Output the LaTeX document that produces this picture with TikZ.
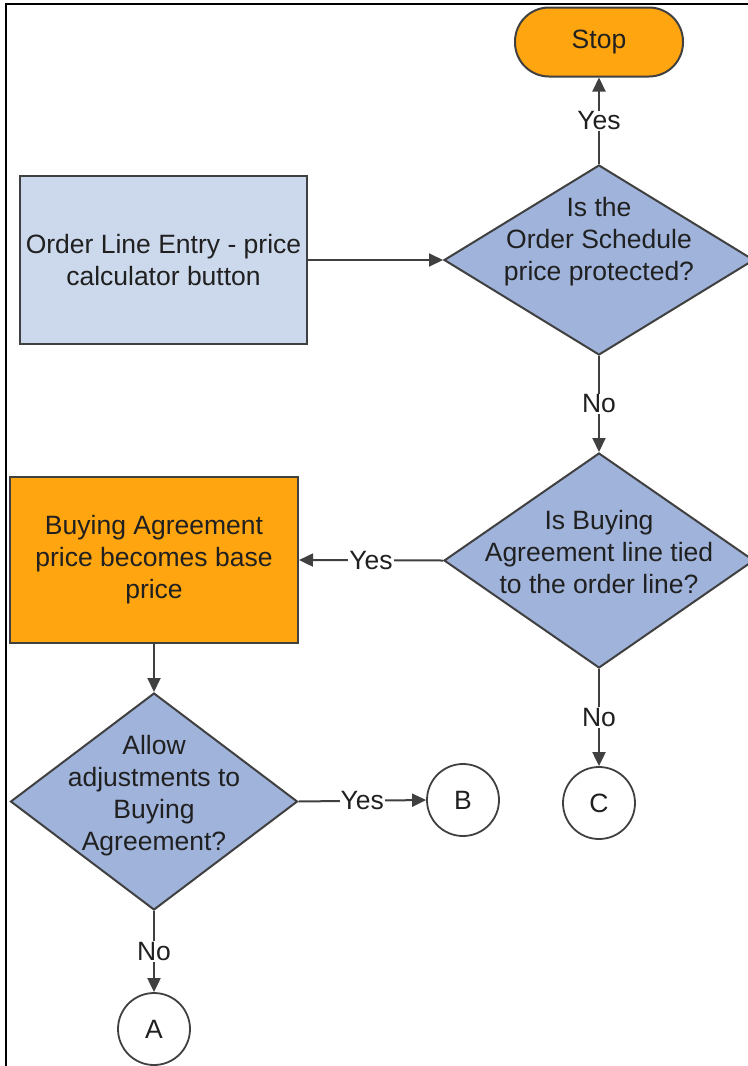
\documentclass[tikz,border=0pt]{standalone}
\usepackage{fontspec}
\setmainfont{Liberation Sans}
\usetikzlibrary{shapes.geometric,arrows.meta}
\definecolor{ordgold}{HTML}{FFA510}
\definecolor{palblue}{HTML}{CCD9EC}
\definecolor{decblue}{HTML}{9FB3DB}
\definecolor{edgegray}{HTML}{404040}
\definecolor{inkgray}{HTML}{202020}
\begin{document}
\begin{tikzpicture}[x=0.5pt,y=-0.5pt,>={Triangle[length=7pt,width=6.5pt]},
		font=\fontsize{13.25}{16}\selectfont,text=inkgray,
		box/.style={draw=edgegray,line width=1pt,align=center,inner sep=0pt},
		decision/.style={diamond,draw=edgegray,line width=1pt,fill=decblue,inner sep=0pt},
		connector/.style={circle,draw=edgegray,line width=0.9pt,fill=white,minimum size=36pt,inner sep=0pt},
		flow/.style={->,draw=edgegray,line width=1pt},
		answer/.style={fill=white,inner sep=0.5pt}]
	\useasboundingbox (0,0) rectangle (748,1066);
	\draw[line width=1pt] (6,1066) -- (6,4) -- (748,4);
	% top row
	\node[box,fill=ordgold,rounded corners=17pt,minimum width=84pt,minimum height=34.5pt] (stop) at (599,42) {Stop};
	\node[box,fill=palblue,minimum width=143.5pt,minimum height=84pt] (entry) at (163.5,260) {Order Line Entry - price\\calculator button};
	\node[decision,minimum width=155pt,minimum height=95pt,
		label={[align=center,yshift=9pt]center:Is the\\Order Schedule\\price protected?}] (protect) at (599,260) {};
	% middle row
	\node[decision,minimum width=155pt,minimum height=107.5pt,
		label={[align=center,yshift=4pt]center:Is Buying\\Agreement line tied\\to the order line?}] (tied) at (599,560.5) {};
	\node[box,fill=ordgold,minimum width=144pt,minimum height=83pt] (baseprice) at (154,560) {Buying Agreement\\price becomes base\\price};
	% bottom row
	\node[decision,minimum width=143.5pt,minimum height=108.5pt,
		label={[align=center,yshift=3pt]center:Allow\\adjustments to\\Buying\\Agreement?}] (adjust) at (154,801.5) {};
	\node[connector] (B) at (463,800) {B};
	\node[connector] (C) at (599,803) {C};
	\node[connector] (A) at (154,1029) {A};
	% flow
	\draw[flow] (entry.east) -- (protect.west);
	\draw[flow] (protect.north) -- node[answer]{Yes} (stop.south);
	\draw[flow] (protect.south) -- node[answer]{No} (tied.north);
	\draw[flow] (tied.west) -- node[answer]{Yes} (baseprice.east);
	\draw[flow] (tied.south) -- node[answer]{No} (C.north);
	\draw[flow] (baseprice.south) -- (adjust.north);
	\draw[flow] (adjust.east) -- node[answer]{Yes} (B.west);
	\draw[flow] (adjust.south) -- node[answer]{No} (A.north);
\end{tikzpicture}
\end{document}
